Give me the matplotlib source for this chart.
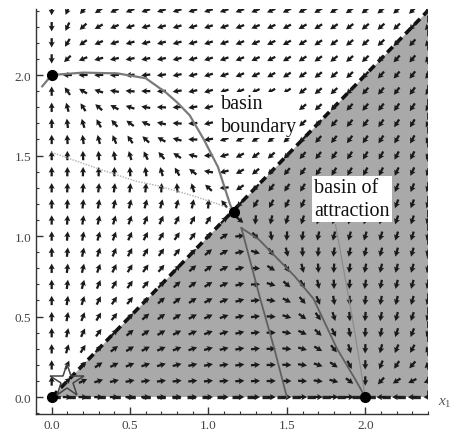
import numpy as np
import matplotlib
matplotlib.use("Agg")
import matplotlib.pyplot as plt
from matplotlib.patches import Polygon

plt.rcParams['font.family'] = ['Liberation Serif', 'DejaVu Serif']
plt.rcParams['mathtext.fontset'] = 'custom'
plt.rcParams['mathtext.it'] = 'Liberation Serif:italic'
plt.rcParams['mathtext.rm'] = 'Liberation Serif'

# ---- data -------------------------------------------------------------
# symmetric two-species model: x1' = u(x1, x2), x2' = u(x2, x1)
growth_a = 1.88
crowd_b = 1.0
crowd_m = 3.27
self_p = 1.2

grid_x = np.round(np.arange(0, 2.41, 0.1), 2)
grid_y = np.round(np.arange(0, 2.41, 0.1), 2)

# equilibria
eq_x = [0.0, 0.0, 2.0, 1.16]
eq_y = [0.0, 2.0, 0.0, 1.15]

# starting point marker
star_x = [0.10]
star_y = [0.10]

# trajectory from (0, 2) into the saddle
traj1_x = [-0.06, 0.0, 0.20, 0.42, 0.60, 0.73, 0.80, 0.88, 0.97, 1.06, 1.14, 1.16]
traj1_y = [1.93, 2.0, 2.015, 2.01, 1.98, 1.89, 1.83, 1.75, 1.60, 1.43, 1.19, 1.15]

# nullcline from (0, 1.5)
null1_x = [0.0, 0.32, 0.54, 0.69, 0.90, 1.12, 1.16]
null1_y = [1.52, 1.41, 1.34, 1.31, 1.25, 1.18, 1.15]

# lower branches
traj2_x = [1.21, 1.33, 1.42, 1.50]
traj2_y = [1.05, 0.61, 0.30, 0.0]
traj3_x = [1.21, 1.32, 1.43, 1.55, 1.67, 1.82, 1.93, 2.0]
traj3_y = [1.05, 0.98, 0.87, 0.75, 0.61, 0.30, 0.12, 0.0]
traj4_x = [1.81, 1.87, 1.93, 1.97, 2.0]
traj4_y = [1.07, 0.75, 0.42, 0.18, 0.0]

# shaded basin of attraction
basin_x = [0.0, 2.4, 2.4]
basin_y = [0.0, 0.0, 2.4]

xticks = [0.0, 0.5, 1.0, 1.5, 2.0]
yticks = [0.0, 0.5, 1.0, 1.5, 2.0]
xlim = (-0.1, 2.4)
ylim = (-0.105, 2.41)


def rhs(a, b):
    return a ** self_p * (growth_a * (2 - a) - crowd_b * b ** crowd_m)


# ---- figure -------------------------------------------------------------
fig = plt.figure(figsize=(4.56, 4.35), dpi=100)
ax = fig.add_axes([36 / 456, 20 / 435, 392 / 456, 405 / 435])
ax.set_xlim(*xlim)
ax.set_ylim(*ylim)

ax.add_patch(Polygon(np.column_stack([basin_x, basin_y]), closed=True,
                     facecolor='#a9a9a9', edgecolor='none', zorder=1))
ax.plot([basin_x[0], basin_x[2]], [basin_y[0], basin_y[2]], color='#111111',
        lw=2.6, ls=(0, (2.2, 1.4)), zorder=3)
ax.plot([basin_x[0], basin_x[1]], [basin_y[0], basin_y[1]], color='#222222',
        lw=2.4, ls=(0, (2.5, 2.0)), zorder=3)
ax.plot([basin_x[1], basin_x[2]], [basin_y[1], basin_y[2]], color='#222222',
        lw=2.0, ls=(0, (2.5, 2.5)), zorder=3)

X, Y = np.meshgrid(grid_x, grid_y)
U = rhs(X, Y)
V = rhs(Y, X)
N = np.hypot(U, V)
ok = N > 1e-9
L = 0.058
Un = np.where(ok, U / np.where(ok, N, 1) * L, np.nan)
Vn = np.where(ok, V / np.where(ok, N, 1) * L, np.nan)
ax.quiver(X, Y, Un, Vn, angles='xy', scale_units='xy', scale=1,
          pivot='middle', color='#1a1a1a', width=0.0058,
          headwidth=2.7, headlength=2.5, headaxislength=2.2, zorder=4)

ax.plot(traj1_x, traj1_y, color='#7a7a7a', lw=1.6, zorder=5)
ax.plot(null1_x, null1_y, color='#b0b0b0', lw=1.0, ls=(0, (1, 1)), zorder=5)
ax.plot(traj2_x, traj2_y, color='#606060', lw=1.3, zorder=5)
ax.plot(traj3_x, traj3_y, color='#606060', lw=1.3, zorder=5)
ax.plot(traj4_x, traj4_y, color='#8c8c8c', lw=0.9, zorder=5)

ax.plot(eq_x, eq_y, 'o', color='black', ms=7, zorder=6)
ax.plot(star_x, star_y, marker='*', ms=25, mfc='none', mec='#444444',
        mew=1.1, ls='none', zorder=6)

box = dict(facecolor='white', edgecolor='none', pad=1.5)
ax.text(1.08, 1.655, 'basin\nboundary', fontsize=14.5, color='#111111',
        linespacing=1.28, va='baseline', bbox=box, zorder=7)
ax.text(1.675, 1.13, 'basin of\nattraction', fontsize=14.5, color='#111111',
        linespacing=1.28, va='baseline', bbox=box, zorder=7)

for s in ('top', 'right'):
    ax.spines[s].set_visible(False)
for s in ('left', 'bottom'):
    ax.spines[s].set_color('#333333')
    ax.spines[s].set_linewidth(1.0)

ax.set_xticks(xticks)
ax.set_yticks(yticks)
ax.set_xticklabels([f'{t:.1f}' for t in xticks])
ax.set_yticklabels([f'{t:.1f}' for t in yticks])
ax.set_xticks(np.round(np.arange(-0.1, 2.41, 0.1), 2), minor=True)
ax.set_yticks(np.round(np.arange(-0.1, 2.41, 0.1), 2), minor=True)
ax.tick_params(which='major', direction='in', length=5, width=1.0,
               color='#333333', labelsize=9.5, labelcolor='#444444')
ax.tick_params(which='minor', direction='in', length=2.5, width=0.8,
               color='#333333')

ax.text(1.025, 0.012, r'$x_1$', transform=ax.transAxes, fontsize=11,
        color='#555555', ha='left', va='bottom')

fig.savefig('out.png', dpi=100)
